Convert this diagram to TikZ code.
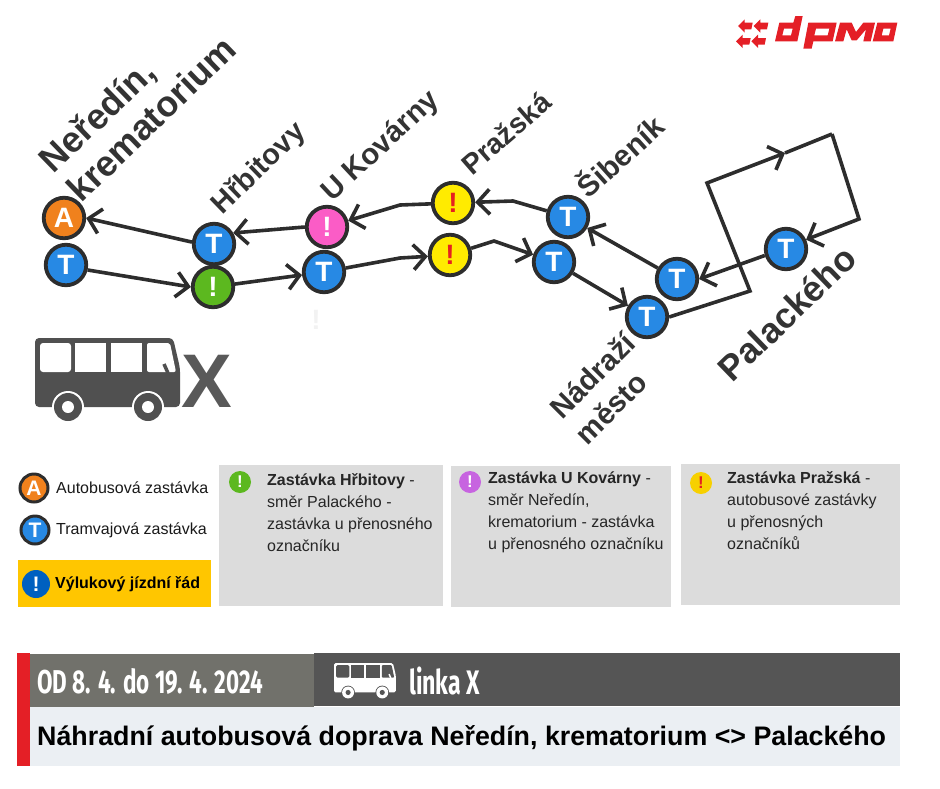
\documentclass[tikz,border=0pt]{standalone}
\usepackage{fontspec}
\setmainfont{Liberation Sans}
\newfontfamily\condfont[FakeStretch=0.68]{Fira Sans}
\usetikzlibrary{arrows.meta}

\definecolor{linegray}{HTML}{2D2D2D}
\definecolor{labelgray}{HTML}{333333}
\definecolor{busgray}{HTML}{505050}
\definecolor{tramblue}{HTML}{2789E4}
\definecolor{busorange}{HTML}{F0811D}
\definecolor{stopgreen}{HTML}{5CB81F}
\definecolor{stoppink}{HTML}{FB5CC6}
\definecolor{stopyellow}{HTML}{FFEB00}
\definecolor{marksred}{HTML}{E62020}
\definecolor{dpmored}{HTML}{E41F26}
\definecolor{boxgray}{HTML}{DCDCDC}
\definecolor{closureyellow}{HTML}{FFC600}
\definecolor{closureblue}{HTML}{0060C0}
\definecolor{notepurple}{HTML}{C764E0}
\definecolor{noteyellow}{HTML}{F7D000}
\definecolor{dategray}{HTML}{71716B}
\definecolor{linkgray}{HTML}{555555}
\definecolor{titlebg}{HTML}{EBEFF3}

% x, y, scale, body colour, colour behind it
\newcommand{\drawbus}[5]{
\begin{scope}[shift={(#1,#2)},scale=#3]
\fill[#4,rounded corners=4*#3] (0,0) -- (138,0) -- (145,30) -- (145,69) -- (0,69) -- cycle;
\fill[#5,rounded corners=3*#3] (5,5) -- (36,5) -- (36,34) -- (5,34) -- cycle;
\fill[#5] (40,5) rectangle (71,34);
\fill[#5] (76,5) rectangle (107,34);
\fill[#5,rounded corners=2*#3] (112,5) -- (135,5) -- (141,34) -- (112,34) -- cycle;
\draw[#4,line width=3.5*#3] (129,26) -- (133,35);
\foreach \wheelx in {33,113} {
  \fill[#5] (\wheelx,69) circle (16);
  \fill[#4] (\wheelx,69) circle (14);
  \fill[#5] (\wheelx,69) circle (6);
}
\end{scope}
}

\begin{document}
\begin{tikzpicture}[x=1pt,y=-1pt]
\tikzstyle{stop}=[circle,draw=linegray,line width=3.8,minimum size=40.5,inner sep=0,font=\fontsize{28}{28}\selectfont\bfseries]
\tikzstyle{tram}=[stop,fill=tramblue,text=white]
\tikzstyle{bus}=[stop,fill=busorange,text=white]
\tikzstyle{legendstop}=[line width=3,minimum size=28,font=\fontsize{21}{21}\selectfont\bfseries]
\tikzstyle{route}=[draw=linegray,line width=3.6,-{Straight Barb[length=12,width=25,line width=3.6]}]
\tikzstyle{plainroute}=[draw=linegray,line width=3.6]
\tikzstyle{stoplabel}=[text=labelgray,align=left,inner sep=0]
\tikzstyle{legendtext}=[anchor=west,inner sep=0,font=\fontsize{16}{18}\selectfont,text=black!90]
\tikzstyle{notetext}=[anchor=north west,inner sep=0,align=left,font=\fontsize{16}{22}\selectfont,text=black!85]
\tikzstyle{noteicon}=[circle,inner sep=0,minimum size=22,font=\fontsize{17}{17}\selectfont\bfseries]

\useasboundingbox (0,0) rectangle (940,788);

% stops of the route
\node[bus] (neredinA) at (64,218) {A};
\node[tram] (neredinT) at (66,265) {T};
\node[tram] (hrbitovyT) at (214,244) {T};
\node[stop,fill=stopgreen,text=white] (hrbitovyG) at (213,287) {!};
\node[stop,fill=stoppink,text=white] (kovarnyP) at (327,227) {!};
\node[tram] (kovarnyT) at (324,272) {T};
\node[stop,fill=stopyellow,text=marksred] (prazskaA) at (453,203) {!};
\node[stop,fill=stopyellow,text=marksred] (prazskaB) at (450,255) {!};
\node[tram] (sibenikA) at (568,217) {T};
\node[tram] (sibenikB) at (554,262) {T};
\node[tram] (mestoA) at (677,279) {T};
\node[tram] (mestoB) at (647,317) {T};
\node[tram] (palackeho) at (786,249) {T};

% bends
\coordinate (bendA) at (400,205);
\coordinate (bendB) at (513,201);
\coordinate (bendC) at (400,258);
\coordinate (bendD) at (494,241);
\coordinate (loopA) at (750,291);
\coordinate (loopB) at (707,183);
\coordinate (loopC) at (785,153);
\coordinate (loopD) at (832,134);
\coordinate (loopE) at (859,219);

% way back
\draw[route] (palackeho.197) -- (mestoA.east);
\draw[route] (mestoA) -- (sibenikA);
\draw[route] (sibenikA) -- (bendB) -- (prazskaA);
\draw[route] (prazskaA) -- (bendA) -- (kovarnyP);
\draw[route] (kovarnyP.west) -- (hrbitovyT.30);
\draw[route] (hrbitovyT.175) -- (neredinA.east);

% way out
\draw[route] (neredinT.-13) -- (hrbitovyG.west);
\draw[route] (hrbitovyG) -- (kovarnyT);
\draw[route] (kovarnyT) -- (bendC) -- (prazskaB);
\draw[route] (prazskaB) -- (bendD) -- (sibenikB);
\draw[route] (sibenikB) -- (mestoB);
\draw[route] (mestoB.east) -- (loopA) -- (loopB) -- (loopC);
\draw[plainroute] (loopC) -- (loopD);
\draw[route,line join=miter] (loopD) -- (loopE) -- (palackeho.25);

% stop names
\node[stoplabel,rotate=44,font=\fontsize{36}{40}\selectfont\bfseries] (neredinL) at (137,104) {Neředín,\\krematorium};
\node[stoplabel,rotate=44,font=\fontsize{29}{36}\selectfont\bfseries] (hrbitovyL) at (259,169) {Hřbitovy};
\node[stoplabel,rotate=43,font=\fontsize{29.5}{36}\selectfont\bfseries] (kovarnyL) at (381,147) {U Kovárny};
\node[stoplabel,rotate=41,font=\fontsize{28.5}{36}\selectfont\bfseries] (prazskaL) at (506,133) {Pražská};
\node[stoplabel,rotate=42,font=\fontsize{29.5}{36}\selectfont\bfseries] (sibenikL) at (619,155) {Šibeník};
\node[stoplabel,rotate=45,font=\fontsize{29.5}{36}\selectfont\bfseries] (mestoL) at (605,388) {Nádraží\\město};
\node[stoplabel,rotate=44,font=\fontsize{35.5}{40}\selectfont\bfseries] (palackehoL) at (787,313) {Palackého};
\node[text=black!5,font=\fontsize{28}{28}\selectfont\bfseries,inner sep=0] (faintL) at (316,320) {!};

% big bus
\drawbus{35}{338}{1}{busgray}{white}
\node[text=busgray!95,font=\fontsize{76}{76}\selectfont\bfseries,inner sep=0] (busX) at (207,381) {X};

% logo
\begin{scope}[shift={(732,12)},scale=1/3,dpmored]
\foreach \tipx/\tipy in {18/42,65/42,12/88,58/88} {
  \fill (\tipx,\tipy) -- ++(20,-20) -- ++(0,10) -- ++(24,0) -- ++(-4,20) -- ++(-20,0) -- ++(0,10) -- cycle;
}
\end{scope}
\begin{scope}[shift={(780,12)},scale=1/3,dpmored]
\fill[even odd rule] (-2,32) -- (40,32) -- (46,12) -- (68,12) -- (52,88) -- (-15,88) -- cycle
  (12,50) -- (38,50) -- (33,70) -- (7,70) -- cycle;
\fill[even odd rule] (85,32) -- (170,32) -- (158,88) -- (100,88) -- (95,110) -- (70,110) -- cycle
  (108,50) -- (148,50) -- (143,70) -- (103,70) -- cycle;
\fill (180,32) -- (215,32) -- (228,60) -- (250,32) -- (285,32) -- (272,88) -- (250,88) -- (258,52) -- (230,85) -- (215,85) -- (200,52) -- (190,88) -- (165,88) -- cycle;
\fill[even odd rule] (292,32) -- (352,32) -- (340,88) -- (278,88) -- cycle
  (310,50) -- (332,50) -- (327,70) -- (305,70) -- cycle;
\end{scope}

% legend
\node[bus,legendstop] (legendA) at (34,488) {A};
\node[legendtext] (legendAtext) at (56,488) {Autobusová zastávka};
\node[tram,legendstop] (legendT) at (35,530) {T};
\node[legendtext] (legendTtext) at (56,530) {Tramvajová zastávka};
\fill[closureyellow] (18,560) rectangle (211,607);
\node[noteicon,minimum size=28,fill=closureblue,text=white,font=\fontsize{21}{21}\selectfont\bfseries] (legendX) at (36,584) {!};
\node[legendtext,font=\fontsize{16}{18}\selectfont\bfseries,text=black] (legendXtext) at (55,584) {Výlukový jízdní řád};

% notes
\fill[boxgray] (219,465) rectangle (443,606);
\fill[boxgray] (451,466) rectangle (671,607);
\fill[boxgray] (681,464) rectangle (900,605);
\node[noteicon,fill=stopgreen,text=white] (noteA) at (240,482) {!};
\node[notetext] (noteAtext) at (267,473) {\textbf{Zastávka Hřbitovy} -\\směr Palackého -\\zastávka u přenosného\\označníku};
\node[noteicon,fill=notepurple,text=white] (noteB) at (470,482) {!};
\node[notetext] (noteBtext) at (488,472) {\textbf{Zastávka U  Kovárny} -\\směr Neředín,\\krematorium - zastávka\\u přenosného označníku};
\node[noteicon,fill=noteyellow,text=marksred] (noteC) at (701,483) {!};
\node[notetext] (noteCtext) at (727,471) {\textbf{Zastávka Pražská} -\\autobusové zastávky\\u přenosných\\označníků};

% bottom strip
\fill[dpmored] (17,653) rectangle (30,766);
\fill[dategray] (30,654) rectangle (314,707);
\fill[linkgray] (314,653) rectangle (900,706);
\fill[titlebg] (30,707) rectangle (900,766);
\node[anchor=west,inner sep=0,text=white,font=\condfont\fontsize{33}{33}\selectfont\bfseries] (dates) at (37,681) {OD 8. 4. do 19. 4. 2024};
\drawbus{334}{663}{0.427}{white}{linkgray}
\node[anchor=west,inner sep=0,text=white,font=\condfont\fontsize{34}{34}\selectfont\bfseries] (linka) at (409,681) {linka X};
\node[anchor=west,inner sep=0,text=black,font=\fontsize{26.8}{30}\selectfont\bfseries] (title) at (37,738) {Náhradní autobusová doprava Neředín, krematorium <> Palackého};
\end{tikzpicture}
\end{document}
